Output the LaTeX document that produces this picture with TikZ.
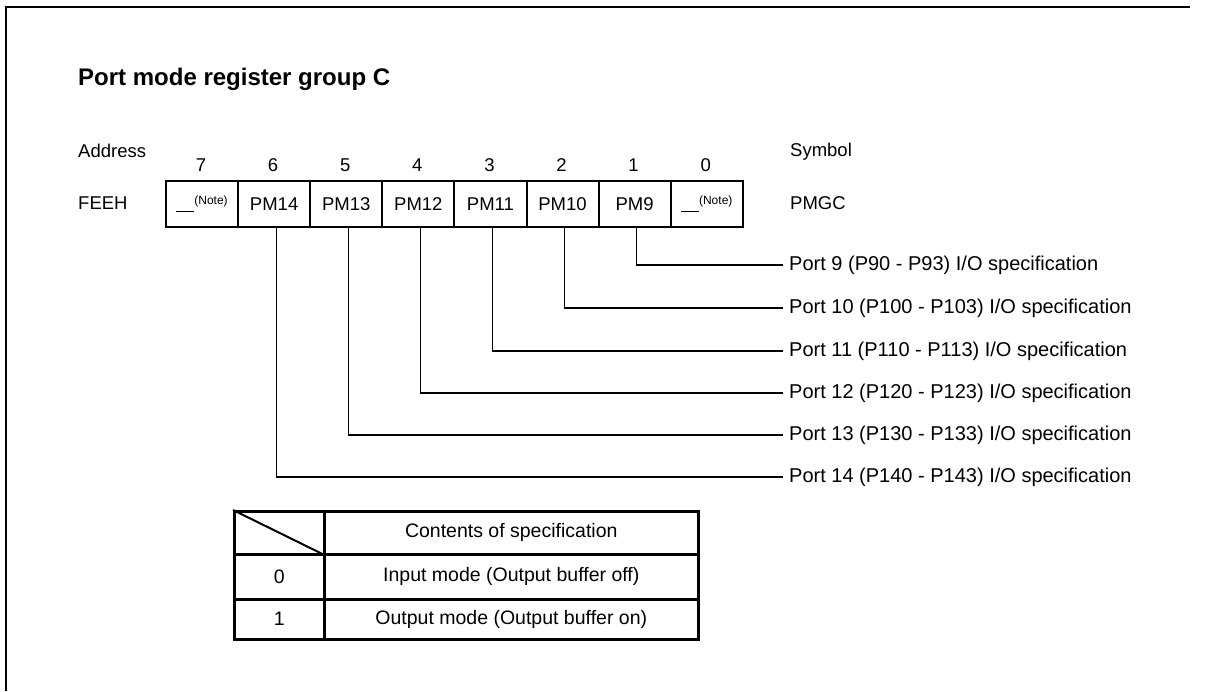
\documentclass[tikz,border=0pt]{standalone}
\usepackage{fontspec}
\setmainfont{Liberation Sans}
\begin{document}
\begin{tikzpicture}[x=1pt,y=-1pt,
  frame/.style={line width=2pt},
  cell/.style={draw,line width=2pt,minimum width=72.1pt,minimum height=46pt,inner sep=0pt,anchor=north west,font=\fontsize{18.5}{18.5}\selectfont},
  bitno/.style={font=\fontsize{18.5}{18.5}\selectfont},
  lbl/.style={font=\fontsize{18.5}{18.5}\selectfont,anchor=west,inner sep=0pt},
  port/.style={font=\fontsize{20}{20}\selectfont,anchor=west,inner xsep=6pt,inner ysep=0pt},
  conn/.style={line width=1.3pt},
  tcell/.style={draw,line width=2.5pt,inner sep=0pt,anchor=north west,font=\fontsize{19.5}{19.5}\selectfont},
]
\useasboundingbox (0,0) rectangle (1213,691);
% outer frame (top and left only)
\draw[frame] (5,7) -- (1190,7);
\draw[frame] (6,6) -- (6,691);
% title and labels
\node[anchor=west,inner sep=0pt,font=\fontsize{24}{24}\selectfont\bfseries] (title) at (78,79) {Port mode register group C};
\node[lbl] (addr) at (78,151) {Address};
\node[lbl] (feeh) at (78,203) {FEEH};
\node[lbl] (sym) at (790,152) {Symbol};
\node[lbl] (pmgc) at (790,203) {PMGC};
% register cells
\newcommand{\noteText}{\rule[-1pt]{18pt}{1.2pt}\raisebox{6pt}{\fontsize{12}{12}\selectfont(Note)}}
\foreach \b/\t [count=\i from 0] in {7/\noteText,6/PM14,5/PM13,4/PM12,3/PM11,2/PM10,1/PM9,0/\noteText}{
  \node[cell] (b\b) at ({165+72.1*\i},180) {\t};
  \node[bitno] (n\b) at ({165+72.1*\i+36},165) {\b};
}
% port labels
\node[port] (p9) at (783,265) {Port 9 (P90 - P93) I/O specification};
\node[port] (p10) at (783,308) {Port 10 (P100 - P103) I/O specification};
\node[port] (p11) at (783,351) {Port 11 (P110 - P113) I/O specification};
\node[port] (p12) at (783,393) {Port 12 (P120 - P123) I/O specification};
\node[port] (p13) at (783,435) {Port 13 (P130 - P133) I/O specification};
\node[port] (p14) at (783,477) {Port 14 (P140 - P143) I/O specification};
% connectors
\draw[conn] ([xshift=2pt]b1.south) |- (p9.west);
\draw[conn] ([xshift=2pt]b2.south) |- (p10.west);
\draw[conn] ([xshift=2pt]b3.south) |- (p11.west);
\draw[conn] ([xshift=2pt]b4.south) |- (p12.west);
\draw[conn] ([xshift=2pt]b5.south) |- (p13.west);
\draw[conn] ([xshift=2pt]b6.south) |- (p14.west);
% table
\node[tcell,minimum width=90pt,minimum height=43pt] (h0) at (233,510) {};
\node[tcell,minimum width=374pt,minimum height=43pt] (h1) at (323,510) {Contents of specification};
\node[tcell,minimum width=90pt,minimum height=45pt] (r0a) at (233,553) {0};
\node[tcell,minimum width=374pt,minimum height=45pt] (r0b) at (323,553) {Input mode (Output buffer off)};
\node[tcell,minimum width=90pt,minimum height=40pt] (r1a) at (233,598) {1};
\node[tcell,minimum width=374pt,minimum height=40pt] (r1b) at (323,598) {Output mode (Output buffer on)};
\draw[line width=2pt] (h0.north west) -- (h0.south east);
\end{tikzpicture}
\end{document}
